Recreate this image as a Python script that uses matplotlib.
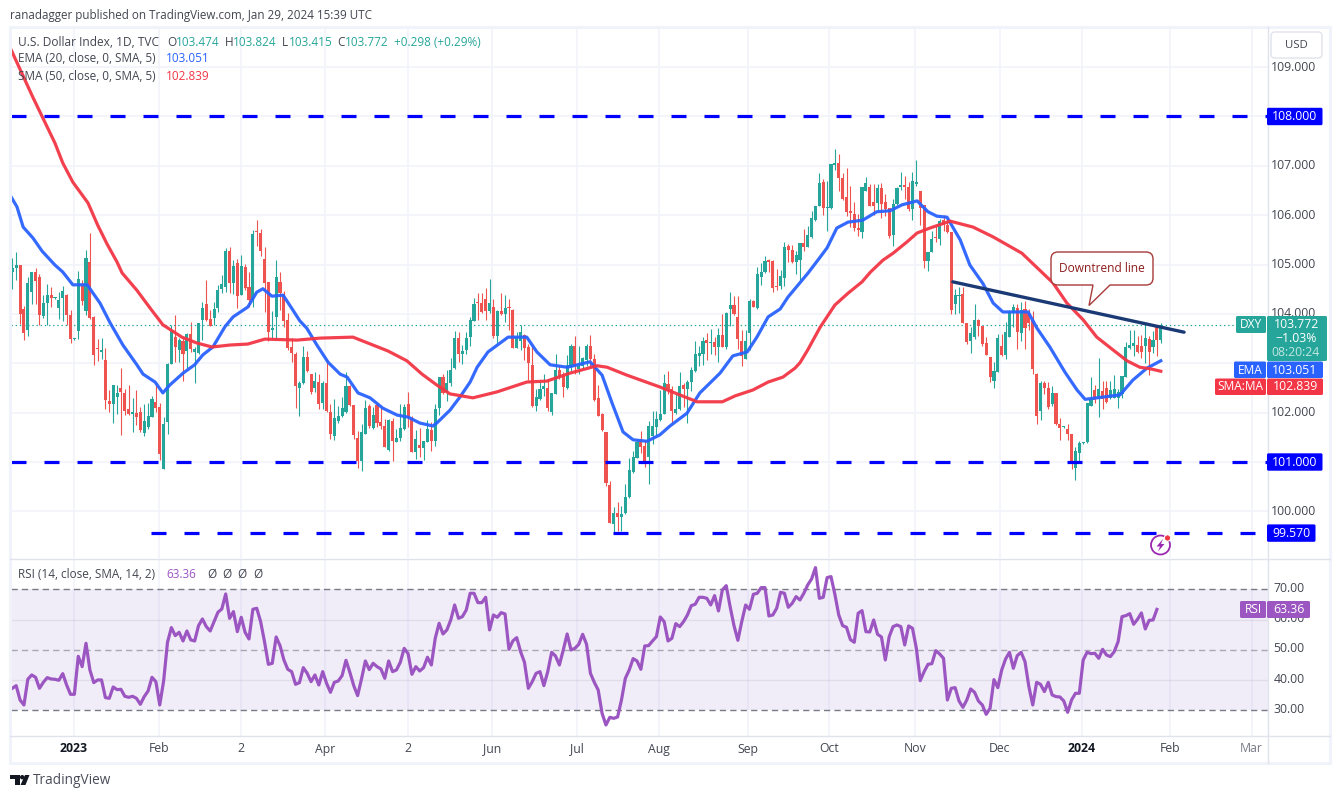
import numpy as np
import matplotlib
matplotlib.use("Agg")
import matplotlib.pyplot as plt
from matplotlib.patches import Rectangle, Circle, PathPatch, Polygon, FancyBboxPatch
from matplotlib.path import Path
from matplotlib.lines import Line2D
from matplotlib.transforms import Affine2D

plt.rcParams["font.family"] = ["Open Sans", "DejaVu Sans"]
plt.rcParams["lines.scale_dashes"] = False

opens = [104.85,104.94,105.00,104.10,103.67,104.44,104.85,104.75,103.95,104.22,
104.39,104.32,104.12,104.32,104.38,103.97,103.49,103.66,104.60,104.05,
105.06,103.93,103.30,103.22,103.07,102.23,102.17,102.31,102.49,102.39,
102.08,101.98,102.00,102.02,101.58,101.71,101.92,102.21,102.11,100.85,
101.82,102.98,103.53,103.26,103.45,103.25,103.59,103.23,103.20,103.87,
104.21,103.90,103.91,104.12,104.50,104.55,105.27,104.63,105.04,104.38,
104.96,104.54,104.28,105.68,105.63,105.12,104.64,103.68,103.93,104.64,
104.41,103.87,103.32,103.19,102.50,102.61,103.12,102.78,102.50,102.63,
102.19,102.61,102.02,101.52,101.83,101.94,102.01,102.53,102.15,101.49,
101.02,101.57,102.13,101.69,102.15,101.82,101.73,101.25,101.84,101.40,
101.48,101.67,102.17,101.90,101.20,101.35,101.28,101.40,101.64,101.42,
102.09,102.72,102.42,102.61,102.90,103.52,103.18,103.26,103.54,103.85,
104.23,104.23,104.31,104.05,104.15,103.56,104.05,103.99,104.13,104.07,
103.31,103.46,103.58,103.34,102.97,102.13,102.28,102.47,102.50,102.02,
102.37,102.87,102.75,102.50,102.92,103.36,102.89,102.95,103.07,103.36,
103.09,102.30,101.97,101.61,100.54,99.74,99.96,99.89,99.96,100.29,
100.79,101.09,101.44,101.33,101.11,101.53,101.70,101.86,101.97,102.58,
102.47,101.99,102.07,102.57,102.47,102.62,102.85,103.14,103.19,103.48,
103.41,103.44,103.33,103.58,103.33,104.09,104.19,103.94,103.46,103.09,
103.61,104.27,104.12,104.75,104.84,105.07,105.07,104.56,104.56,104.72,
105.38,105.30,105.06,105.09,105.44,105.36,105.55,105.91,106.19,106.68,
106.14,106.15,107.01,107.06,106.76,106.36,106.09,106.03,105.72,105.65,
106.50,106.58,106.26,106.24,106.55,106.26,106.15,105.59,106.22,106.57,
106.62,106.58,106.13,106.64,106.50,106.20,105.07,105.25,105.55,105.51,
105.90,105.81,105.65,104.21,104.36,104.40,103.81,103.46,103.54,103.87,
103.75,103.42,103.13,102.65,102.82,103.36,103.17,103.54,104.01,104.13,
103.62,104.09,104.02,103.87,102.79,102.03,102.60,102.49,102.17,102.40,
101.78,101.70,101.66,101.56,100.87,101.19,101.38,101.41,102.13,102.46,
102.27,102.44,102.50,102.30,102.30,102.30,102.37,102.72,103.31,103.35,
103.37,103.35,103.35,103.50,103.33,103.73,103.474]

highs = [105.14,105.25,105.00,104.17,104.75,104.85,104.94,104.81,104.38,104.60,
104.54,104.34,104.45,104.56,104.41,104.08,103.51,104.86,104.68,105.29,
105.63,103.95,103.50,103.51,103.30,102.45,102.57,102.57,102.91,102.48,
102.57,102.29,102.45,102.11,102.18,102.20,102.33,102.62,102.20,101.92,
103.01,103.77,103.97,103.52,103.53,103.61,103.84,103.33,103.82,104.24,
104.68,104.08,104.24,104.58,104.79,105.34,105.36,105.09,105.11,105.19,
105.02,104.85,105.70,105.90,105.73,105.35,104.64,104.05,105.10,104.85,
104.46,104.01,103.52,103.23,102.65,103.36,103.25,102.78,102.82,102.79,
102.65,103.07,102.18,102.28,102.13,102.31,102.82,102.57,102.15,101.62,
101.76,102.25,102.18,102.11,102.19,102.13,101.87,101.87,101.90,101.67,
102.18,102.18,102.42,101.94,101.64,101.69,101.43,101.86,101.81,102.17,
102.73,102.78,102.87,103.11,103.65,103.63,103.37,103.63,103.94,104.32,
104.43,104.43,104.53,104.70,104.31,104.08,104.42,104.38,104.31,104.09,
103.63,103.78,103.60,103.39,103.37,102.48,102.62,102.79,102.68,102.40,
103.18,102.95,102.82,103.16,103.39,103.56,103.36,103.12,103.39,103.58,
103.19,102.56,101.99,101.61,100.62,100.08,100.18,100.11,100.55,101.09,
101.23,101.46,101.63,101.44,101.84,102.04,102.04,102.45,102.79,102.84,
102.55,102.38,102.82,102.60,102.66,102.92,103.46,103.36,103.54,103.61,
103.69,103.53,103.72,104.00,104.04,104.45,104.36,104.36,103.67,103.67,
104.30,104.29,104.95,105.03,105.17,105.12,105.09,104.92,104.88,105.45,
105.42,105.39,105.28,105.44,105.72,105.79,106.09,106.18,106.85,106.74,
106.69,107.03,107.34,107.23,106.85,106.96,106.60,106.26,106.03,106.58,
106.78,106.64,106.64,106.64,106.66,106.43,106.15,106.33,106.57,106.88,
106.80,106.67,106.87,107.11,106.50,106.20,105.26,105.69,105.79,105.93,
106.01,105.94,105.65,104.51,104.54,104.55,103.81,103.73,104.20,103.90,
103.76,103.54,103.13,103.02,103.59,103.59,103.83,104.07,104.21,104.20,
104.24,104.26,104.09,104.05,102.80,102.64,102.64,102.63,102.54,102.40,
101.90,101.73,101.76,101.57,101.30,101.43,101.40,102.19,102.72,102.57,
103.11,102.64,102.65,102.65,102.76,102.47,102.74,103.43,103.68,103.68,
103.56,103.58,103.80,103.55,103.66,103.76,103.824]

lows = [104.50,104.68,103.80,103.47,103.55,104.21,104.20,103.78,103.91,103.78,
104.14,104.30,103.89,103.86,103.78,103.41,103.47,103.49,104.18,103.97,
103.90,102.96,103.04,103.09,102.08,102.01,101.79,101.98,101.54,101.96,
101.96,101.60,101.74,101.60,101.52,101.67,101.91,102.01,101.05,100.85,
101.56,102.98,103.03,103.03,102.65,102.91,103.23,102.60,103.18,103.47,
103.86,103.75,103.77,104.04,104.43,104.45,104.43,104.41,104.13,104.38,
104.49,104.14,104.14,105.38,105.17,104.04,103.45,103.50,103.48,104.08,
103.74,103.26,103.03,102.09,101.93,102.59,102.83,102.38,102.42,102.08,
102.08,102.01,101.47,101.45,101.79,101.92,101.99,102.13,101.47,100.87,
100.81,101.56,101.69,101.67,101.71,101.67,101.30,101.22,101.03,101.40,
101.43,101.64,101.71,101.20,101.06,101.10,101.05,101.40,101.23,101.33,
101.96,102.38,102.23,102.55,102.89,103.02,102.99,103.18,103.36,103.85,
103.87,104.02,103.87,104.02,103.52,103.41,103.97,103.83,103.67,103.31,
103.31,103.26,103.06,102.67,102.12,102.03,102.26,102.33,102.03,101.95,
102.37,102.68,102.32,102.48,102.85,102.79,102.79,102.89,102.95,102.92,
102.24,101.94,101.63,100.52,99.77,99.57,99.60,99.60,99.94,100.28,
100.77,101.08,101.19,100.89,100.56,101.36,101.55,101.84,101.97,102.38,
101.78,101.97,102.05,102.11,101.80,102.43,102.82,102.95,102.97,103.07,
103.19,103.16,103.02,103.33,103.29,103.75,103.97,103.29,102.95,103.09,
103.26,104.14,104.11,104.58,104.83,104.85,104.44,104.48,104.51,104.57,
105.05,105.03,104.80,104.68,105.28,105.35,105.54,105.88,106.18,106.01,
105.67,106.13,106.91,106.50,106.31,105.99,105.76,105.67,105.57,105.54,
106.49,106.18,106.01,106.09,105.95,105.99,105.54,105.37,106.20,106.51,
106.33,106.09,105.91,106.60,105.80,104.94,104.86,105.25,105.45,105.39,
105.69,105.63,103.99,103.99,104.01,103.81,103.39,103.20,103.49,103.56,
103.36,103.16,102.63,102.49,102.82,103.15,103.09,103.53,103.73,103.28,
103.45,103.28,103.68,102.79,101.78,101.86,102.37,102.08,102.13,101.75,
101.45,101.68,101.45,100.85,100.64,100.99,101.37,101.38,102.13,102.20,
101.92,102.07,102.20,102.27,102.30,102.10,102.30,102.72,103.28,103.14,
103.21,103.10,103.01,102.77,103.21,103.14,103.415]

closes = [104.94,105.00,103.99,103.61,104.62,104.85,104.67,103.97,104.23,104.39,
104.32,104.33,104.28,104.47,103.97,103.49,103.50,104.70,104.26,105.14,
103.91,103.16,103.29,103.26,102.25,102.17,102.57,102.39,102.41,102.04,
101.98,102.02,101.92,101.64,101.84,101.94,102.27,102.09,101.16,101.76,
102.99,103.65,103.32,103.48,103.18,103.59,103.28,103.28,103.82,104.11,
103.87,103.76,104.10,104.49,104.60,105.27,104.62,104.97,104.37,104.97,
104.52,104.28,105.62,105.66,105.28,104.63,103.64,103.70,104.75,104.43,
103.86,103.30,103.21,102.53,102.61,103.12,102.84,102.42,102.65,102.18,
102.61,102.04,101.56,101.90,101.94,102.10,102.55,102.15,101.54,101.02,
101.60,102.10,101.72,101.96,101.79,101.72,101.31,101.85,101.43,101.49,
101.69,102.11,101.90,101.21,101.47,101.28,101.42,101.67,101.42,102.08,
102.72,102.40,102.60,102.87,103.52,103.18,103.24,103.52,103.88,104.21,
104.22,104.04,104.05,104.23,103.56,104.05,103.99,104.13,104.12,103.31,
103.54,103.64,103.31,103.00,102.14,102.31,102.48,102.55,102.09,102.40,
102.87,102.75,102.51,102.97,103.36,102.95,102.95,103.10,103.36,103.09,
102.26,101.94,101.65,100.57,99.77,99.96,99.89,99.94,100.29,100.84,
101.11,101.41,101.30,100.96,101.72,101.72,101.88,101.97,102.60,102.48,
102.04,102.07,102.55,102.47,102.63,102.87,103.18,103.21,103.46,103.41,
103.44,103.33,103.58,103.34,104.02,104.19,104.00,103.50,103.15,103.46,
104.27,104.15,104.80,104.84,105.07,105.06,104.52,104.55,104.76,105.35,
105.30,105.06,105.20,105.44,105.36,105.59,105.95,106.18,106.65,106.14,
106.16,107.03,107.06,106.75,106.32,106.07,106.04,105.75,105.71,106.58,
106.66,106.19,106.18,106.55,106.22,106.13,105.57,106.23,106.55,106.62,
106.58,106.12,106.70,106.66,106.14,105.07,105.26,105.51,105.53,105.89,
105.81,105.66,104.07,104.39,104.38,103.81,103.44,103.61,103.88,103.75,
103.39,103.17,102.73,102.85,103.51,103.17,103.64,104.03,104.15,103.63,
104.07,103.72,103.82,102.89,101.93,102.60,102.50,102.11,102.39,101.78,
101.68,101.71,101.56,100.95,101.22,101.38,101.39,102.19,102.27,102.25,
102.47,102.27,102.22,102.46,102.47,102.42,102.74,103.33,103.38,103.41,
103.23,103.23,103.51,103.23,103.48,103.474,103.772]

ema_bars = [-0.3,1.2,2.8,5.3,7.7,11,13,15.6,19.3,22.6,25.2,28.5,32.1,33.7,36.8,38.8,40.6,44,47,49.1,51.7,54.8,56.9,60.7,63,64.6,66.9,69.8,72.3,74.1,75.9,78.5,81.4,84.5,86.3,89.1,92.2,95.5,99.2,102,105,108.4,109.4,112.8,115.4,118,119.8,122.6,127.8,132.6,135.2,138.6,143,148.9,152,154.6,157.4,160,163.6,166.9,169.5,173.9,177.2,182.4,185.7,189.4,191.9,194.8,197.9,199.9,205.1,208.2,210,212.5,215.4,219.2,222.8,226.2,229.3,233.2,236,238.3,240.9,244.3,246.8,250.2,252.8,255.3,261.8,264.1,267.4,271.3,274.4,276.5,285.5,288.8,292.4,296]
ema_vals = [106.37,106.17,105.76,105.54,105.27,104.99,104.85,104.59,104.59,104.22,103.82,103.37,102.97,102.78,102.62,102.40,102.56,102.80,102.97,103.17,103.33,103.74,103.94,104.14,104.44,104.51,104.36,104.38,104.08,103.86,103.71,103.37,103.02,102.78,102.72,102.40,102.30,102.09,101.95,101.91,101.79,101.73,101.79,102.05,102.32,102.62,102.92,103.23,103.53,103.53,103.23,102.97,102.92,103.03,102.76,102.19,101.61,101.45,101.42,101.55,101.73,101.99,102.40,102.80,103.15,103.23,103.53,103.94,104.10,104.34,104.83,105.15,105.34,105.74,105.86,105.90,106.07,106.09,106.21,106.29,106.07,105.98,105.96,105.50,104.99,104.61,104.22,104.04,104.04,103.71,103.33,102.82,102.46,102.27,102.36,102.66,102.90,103.051]

sma_bars = [-0.3,5.3,11,13,15.6,19.5,22,24.4,27,28.3,32.1,35.5,38.8,43.7,47.6,51.5,56.1,60.7,65.1,73.4,79.3,87.8,96.8,101.7,105.6,109.4,112.8,118.7,124.9,132.6,137.8,143.7,150.7,153.3,158.4,166.9,176.5,183,186.3,190.9,194.8,198.6,201.7,203,205,208.2,212,215.4,219,221.2,224.4,227,230.6,233.2,236.5,241.7,247.6,252.8,260.2,268.2,271.8,276,279.5,283.7,287.3,290.6,293.2,296]
sma_vals = [109.35,108.39,107.46,107.06,106.67,106.25,105.80,105.42,105.05,104.83,104.48,104.12,103.78,103.53,103.41,103.33,103.37,103.39,103.49,103.47,103.51,103.53,103.25,103.05,102.78,102.56,102.38,102.30,102.42,102.62,102.64,102.80,102.95,102.92,102.76,102.52,102.22,102.22,102.34,102.46,102.62,102.72,102.90,103.01,103.27,103.73,104.18,104.42,104.65,104.85,105.09,105.23,105.46,105.64,105.74,105.88,105.76,105.56,105.23,104.63,104.22,103.88,103.53,103.27,103.05,102.92,102.89,102.839]

rsi = [37.27,38.15,33.41,31.76,40.25,41.68,40.91,37.27,39.25,40.80,40.36,40.25,39.92,42.12,38.37,35.28,35.28,47.85,44.43,52.15,43.33,39.14,40.03,40.03,34.19,33.96,37.71,36.83,36.94,34.63,34.30,34.63,33.96,31.98,34.52,36.39,40.91,39.47,31.76,39.69,52.48,57.33,54.68,55.78,52.92,56.22,53.25,52.92,57.99,60.19,57.66,56.22,59.31,62.40,63.50,68.46,60.41,62.62,56.00,60.74,55.78,53.58,63.39,63.72,59.31,52.70,45.20,45.54,54.24,51.38,46.64,43.55,42.78,38.59,39.14,44.10,42.23,39.47,41.68,38.37,42.78,38.92,35.95,39.25,39.69,41.46,46.53,42.56,38.15,34.85,40.36,46.31,43.44,45.54,44.43,43.66,40.58,46.31,42.78,43.33,45.87,50.49,48.73,41.90,44.43,43.00,44.10,47.52,44.98,53.80,58.76,55.23,56.56,59.86,
64.82,60.41,60.96,63.17,68.68,68.68,65.59,65.59,67.35,56.56,61.51,60.74,62.29,61.84,50.16,52.92,54.02,49.39,45.87,37.27,39.47,42.23,42.78,38.15,42.78,49.17,47.96,44.98,49.94,55.23,49.94,50.49,51.82,55.12,51.82,42.23,39.25,36.72,29.01,25.15,27.68,27.35,27.79,33.41,40.58,43.33,47.08,46.31,43.55,51.27,51.38,52.92,54.35,60.85,59.31,52.92,53.80,58.65,57.66,59.31,61.51,64.60,65.04,67.35,67.35,67.02,64.82,67.91,62.84,69.78,71.21,64.27,57.99,53.14,59.31,64.82,63.39,68.35,68.68,70.55,70.55,61.18,61.51,63.72,69.01,68.68,64.05,65.37,67.58,66.47,68.68,71.43,73.42,77.16,67.02,67.35,73.86,74.19,68.35,61.51,57.99,57.44,53.36,52.48,62.07,62.95,56.00,55.89,59.86,55.12,54.24,46.64,
54.35,57.66,58.21,57.66,51.60,57.88,57.11,50.49,39.80,42.78,45.20,45.42,49.72,48.62,47.19,33.41,37.27,37.49,33.08,30.99,33.41,37.05,35.95,33.08,31.76,28.67,30.66,40.14,37.49,43.33,46.97,49.17,43.88,48.07,49.17,46.09,37.82,31.76,39.25,38.59,36.17,39.25,35.07,34.52,34.41,33.08,29.34,33.41,35.62,35.62,46.64,49.17,48.73,48.84,47.19,50.16,48.29,47.74,49.39,52.70,60.96,61.29,61.95,58.43,60.08,62.18,56.89,59.75,59.86,63.36]

level_values = [108.0, 101.0, 99.57]
level_labels = ["108.000", "101.000", "99.570"]
level_starts = [-0.46, -0.46, 35.7]
trend_bars = [242.4, 302.0]
trend_vals = [104.65, 103.63]
last_price = 103.772

price_ticks = [100, 101, 102, 103, 104, 105, 106, 107, 108, 109]
price_tick_labels = ["100.000", "102.000", "104.000", "105.000", "106.000", "107.000", "109.000"]
price_tick_vals = [100, 102, 104, 105, 106, 107, 109]
rsi_ticks = [70, 60, 50, 40, 30]
month_bars = [15.9, 37.9, 58.9, 80.7, 101.9, 123.7, 145.6, 166.7, 189.6, 210.5, 232.6, 254.5, 275.6, 298.5, 319.4]
month_labels = ["2023", "Feb", "2", "Apr", "2", "Jun", "Jul", "Aug", "Sep", "Oct", "Nov", "Dec", "2024", "Feb", "Mar"]

GREEN, RED, BLUE, SMA_RED, PURPLE = "#26a69a", "#ef5350", "#2962ff", "#f23645", "#9c56c2"
TXT, GRID = "#434651", "#f0f3fa"
W, H = 1341, 798
fig = plt.figure(figsize=(W/100, H/100), dpi=100, facecolor="white")
px = Affine2D().scale(1, -1).translate(0, H)

def make_ax(x0, x1, y0, y1):
    a = fig.add_axes([x0/W, 1-y1/H, (x1-x0)/W, (y1-y0)/H])
    a.set_xlim(-0.464, 323.5)
    a.set_xticks([]); a.set_yticks([])
    for s in a.spines.values():
        s.set_visible(False)
    a.set_axisbelow(True)
    return a

ax = make_ax(10.5, 1267.5, 27.5, 558)
ax.set_ylim(110.36-558/49.36, 110.36-27.5/49.36)
rx = make_ax(10.5, 1267.5, 558.5, 735.5)
rx.set_ylim(21.67, 80.18)

for a in (ax, rx):
    a.vlines(month_bars, *a.get_ylim(), color=GRID, lw=1.1, zorder=0)
ax.hlines(price_ticks, -1, 330, color=GRID, lw=1.1, zorder=0)

x = np.arange(len(closes))
o, h, l, c = map(np.array, (opens, highs, lows, closes))
cols = np.where(c >= o, GREEN, RED)
ax.vlines(x, l, h, colors=cols, lw=0.8, zorder=2)
ax.bar(x, np.maximum(np.abs(c-o), 0.025), bottom=np.minimum(o, c), width=0.8, color=cols, linewidth=0, zorder=3)

ax.plot(ema_bars, ema_vals, color=BLUE, lw=2.3, solid_joinstyle="round", alpha=0.95, zorder=4)
ax.plot(sma_bars, sma_vals, color=SMA_RED, lw=2.3, solid_joinstyle="round", alpha=0.95, zorder=4)
for v, st in zip(level_values, level_starts):
    ax.plot([st, 323.5], [v, v], color="#0000ff", lw=2.3, ls=(0, (10.8, 12.96)), dash_capstyle="butt", zorder=5)
ax.plot(trend_bars, trend_vals, color="#1b3a75", lw=2.4, solid_capstyle="round", zorder=6)
ax.plot([-0.46, 316], [last_price, last_price], color=GREEN, lw=0.9, ls=(0, (1.0, 2.0)), zorder=2)

rx.axhspan(30, 70, color="#7e57c2", alpha=0.1, lw=0, zorder=0)
for v in (40, 60):
    rx.axhline(v, color="#7c7c90", alpha=0.14, lw=1, zorder=1)
rx.axhline(70, color="#787b86", lw=1, ls=(0, (4.5, 3)), zorder=1)
rx.axhline(50, color="#787b86", alpha=0.6, lw=1, ls=(0, (4.5, 3)), zorder=1)
rx.axhline(30, color="#787b86", lw=1, ls=(0, (4.5, 3)), zorder=1)
rx.plot(np.arange(len(rsi)), rsi, color=PURPLE, lw=2.3, solid_joinstyle="round", zorder=3)

# frame
fig.add_artist(Rectangle((10, 27), 1320, 736, fill=False, ec=GRID, lw=2.2, transform=px, zorder=1))
for xs, ys in (([1267.5, 1267.5], [27, 763]), ([10, 1330], [558.5, 558.5]), ([10, 1330], [735.5, 735.5])):
    fig.add_artist(Line2D(xs, ys, color="#e0e3eb", lw=1.0, transform=px, zorder=1))

def T(xp, yp, s, color=TXT, size=8.8, ha="left", weight="normal", z=8):
    return fig.text(xp, yp, s, color=color, fontsize=size, ha=ha, va="center", weight=weight, transform=px, zorder=z)

def box(x0, x1, y0, y1, color, z=7):
    fig.add_artist(FancyBboxPatch((x0+1.5, y0+1.5), x1-x0-3, y1-y0-3, boxstyle="round,pad=1.5,rounding_size=1.5",
                                  fc=color, ec="none", transform=px, zorder=z))

T(10, 15, "ranadagger published on TradingView.com, Jan 29, 2024 15:39 UTC", size=8.35)
T(18, 42, "U.S. Dollar Index, 1D, TVC", size=8.6)
for xp, s, col in ((167, "O", TXT), (176, "103.474", GREEN), (225, "H", TXT), (233, "103.824", GREEN),
                   (282, "L", TXT), (289, "103.415", GREEN), (337, "C", TXT), (345, "103.772", GREEN),
                   (394, "+0.298 (+0.29%)", GREEN)):
    T(xp, 42, s, col, size=8.5)
T(18, 59, "EMA (20, close, 0, SMA, 5)", size=8.5); T(166, 59, "103.051", BLUE, size=8.5)
T(18, 76, "SMA (50, close, 0, SMA, 5)", size=8.5); T(166, 76, "102.839", SMA_RED, size=8.5)
T(18, 574, "RSI (14, close, SMA, 14, 2)", size=8.5); T(166, 574, "63.36", PURPLE, size=8.5)
for xp in (207, 222, 237, 253):
    T(xp, 574, "Ø", size=8.5)

# price scale
yp_price = lambda v: (110.36 - v) * 49.36
for s, v in zip(price_tick_labels, price_tick_vals):
    T(1316.5, yp_price(v), s, ha="right", size=8.8, z=6)
yp_rsi = lambda v: 710.3 - (v-30)*3.025
for v in rsi_ticks:
    T(1304.5, yp_rsi(v)-1, f"{v:.2f}", ha="right", size=8.8, z=6)
for v, s in zip(level_values, level_labels):
    y = yp_price(v) + (0.5 if v == 99.57 else 0)
    box(1267, 1322.5 if v > 100 else 1315.5, y-8.7, y+8.7, "#0000ff")
    T(1294.7 if v > 100 else 1291, y, s, "white", ha="center", size=8.8)

box(1236, 1266, 316, 333, GREEN); T(1251, 324.5, "DXY", "white", ha="center", size=8.6)
box(1267, 1327, 316, 361, GREEN)
T(1296, 324.5, "103.772", "white", ha="center", size=8.8)
T(1296, 338.5, "\u22121.03%", "white", ha="center", size=8.8)
T(1296, 352.5, "08:20:24", "#bfe6e1", ha="center", size=8.8)
box(1234, 1266, 361.5, 378, BLUE); T(1250, 370, "EMA", "white", ha="center", size=8.6)
box(1267, 1323, 361.5, 378, BLUE); T(1295, 370, "103.051", "white", ha="center", size=8.8)
box(1215, 1266, 378.5, 395, SMA_RED); T(1240.5, 387, "SMA:MA", "white", ha="center", size=8.6)
box(1267, 1323, 378.5, 395, SMA_RED); T(1295, 387, "102.839", "white", ha="center", size=8.8)
box(1240, 1266, 601, 618, PURPLE); T(1253, 609.5, "RSI", "white", ha="center", size=8.6)
box(1267, 1310, 601, 618, PURPLE); T(1288.5, 609.5, "63.36", "white", ha="center", size=8.8)

fig.add_artist(FancyBboxPatch((1273, 34), 47, 22, boxstyle="round,pad=2,rounding_size=4", fc="white", ec="#e0e3eb", lw=1, transform=px, zorder=5))
T(1296.5, 45, "USD", ha="center", size=8.2)

# time axis
x2p = lambda b: 12.3 + 3.88 * b
for b, s in zip(month_bars, month_labels):
    bold = s in ("2023", "2024")
    col = "#131722" if bold else ("#787b86" if s == "Mar" else TXT)
    T(x2p(b), 749, s, col, ha="center", size=8.8, weight="bold" if bold else "normal")

# callout
x0, x1, y0, y1, r = 1051, 1153, 252, 285, 7
verts = [(x0+r, y0), (x1-r, y0), (x1, y0), (x1, y0+r), (x1, y1-r), (x1, y1), (x1-r, y1),
         (1110, y1), (1089, 305.5), (1093, y1), (x0+r, y1), (x0, y1), (x0, y1-r), (x0, y0+r), (x0, y0), (x0+r, y0)]
L, C = Path.LINETO, Path.CURVE3
codes = [Path.MOVETO, L, C, C, L, C, C, L, L, L, L, C, C, L, C, C]
fig.add_artist(PathPatch(Path(verts, codes), fc="white", ec="#a83a3a", lw=1.0, transform=px, zorder=7))
T(1102, 268, "Downtrend line", "#8e1c1c", ha="center", size=8.6)

# status icon
fig.add_artist(Circle((1160.5, 545), 9.5, fc="white", ec="#9c27b0", lw=1.3, transform=px, zorder=7))
fig.add_artist(Polygon([(1163, 539), (1156.5, 546.5), (1160, 546.5), (1158, 551.5), (1164.5, 544), (1161, 544)],
                       fc="#9c27b0", ec="none", transform=px, zorder=8))
fig.add_artist(Circle((1167.5, 538), 3.2, fc="#f23645", ec="white", lw=0.8, transform=px, zorder=9))

# logo
fig.add_artist(Polygon([(10, 775), (19.5, 775), (19.5, 785), (14.5, 785), (14.5, 779), (10, 779)], fc="#131722", ec="none", transform=px, zorder=8))
fig.add_artist(Circle((22.2, 777.2), 2.2, fc="#131722", ec="none", transform=px, zorder=8))
fig.add_artist(Polygon([(25, 775), (29.5, 775), (25.5, 785), (20.5, 785)], fc="#131722", ec="none", transform=px, zorder=8))
T(33, 780, "TradingView", "#4a4d59", size=9.8)

fig.savefig("out.png", dpi=100)
